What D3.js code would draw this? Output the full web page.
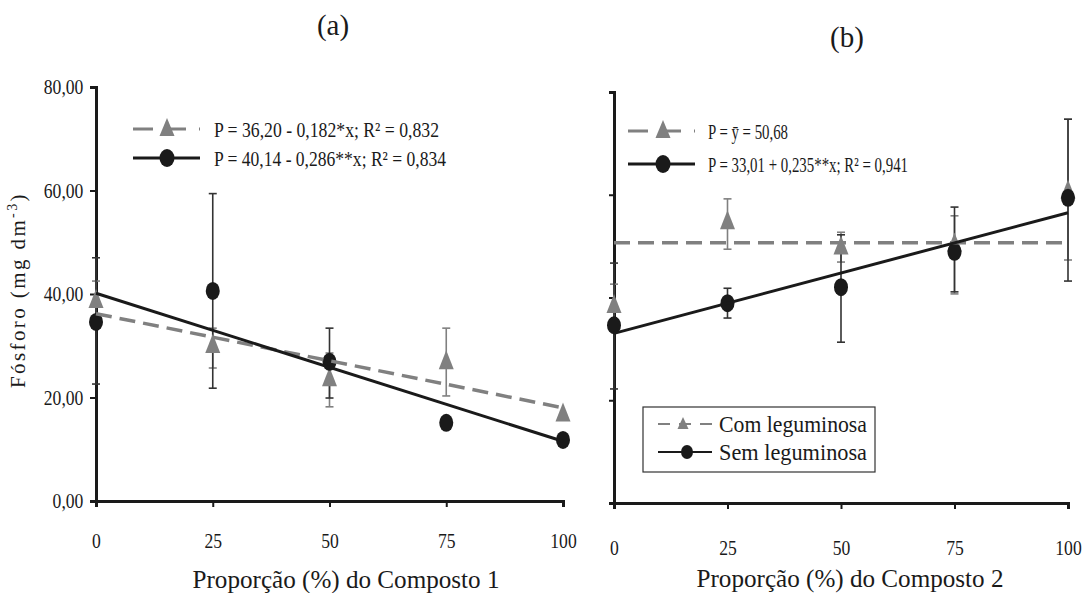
<!DOCTYPE html>
<html><head><meta charset="utf-8">
<script src="https://cdn.jsdelivr.net/npm/d3@7/dist/d3.min.js"></script>
<style>
html,body{margin:0;padding:0;background:#fff;}
svg{display:block;}
</style></head>
<body>
<svg id="chart" width="1083" height="593" font-family="Liberation Serif"></svg>
<script>
// ---------- DATA ----------
const doses = [0, 25, 50, 75, 100];
const yTicks = [0, 20, 40, 60, 80];
const xTicks = [0, 25, 50, 75, 100];

// Panel (a): Composto 1
const comA    = [38.5, 29.8, 23.4, 26.7, 16.6];
const comA_lo = [34.5, 25.7, 18.2, 20.3, 16.6];
const comA_hi = [42.5, 33.4, 28.6, 33.4, 16.6];
const semA    = [34.6, 40.6, 26.9, 15.1, 11.8];
const semA_lo = [22.6, 21.8, 19.9, 15.1, 11.8];
const semA_hi = [47.0, 59.4, 33.4, 15.1, 11.8];
const fitComA = [36.20, -0.182];   // intercept, slope
const fitSemA = [40.14, -0.286];

// Panel (b): Composto 2
const comB    = [38.2, 54.5, 49.6, 50.2, 60.5];
const comB_lo = [33.8, 49.4, 46.9, 40.7, 47.3];
const comB_hi = [42.6, 59.2, 52.7, 55.9, 74.7];
const semB    = [34.6, 38.9, 42.0, 48.9, 59.4];
const semB_lo = [22.2, 36.0, 31.3, 41.1, 43.2];
const semB_hi = [46.7, 41.8, 52.2, 57.6, 74.7];
const fitComB = [50.68, 0];
const fitSemB = [33.01, 0.235];

const legA = ["P = 36,20 - 0,182*x; R² = 0,832", "P = 40,14 - 0,286**x; R² = 0,834"];
const legB = ["P = ȳ = 50,68", "P = 33,01 + 0,235**x; R² = 0,941"];
const seriesNames = ["Com leguminosa", "Sem leguminosa"];

// ---------- STYLE ----------
const FONT = "Liberation Serif";
const GRAY = "#808080", DARK = "#1a1a1a";
const svg = d3.select("#chart");
const fmt = d3.formatLocale({decimal: ",", thousands: ".", grouping: [3], currency: ["", ""]}).format(".2f");

function triPath(w, h) {
  return `M0,${-h*2/3}L${w/2},${h/3}L${-w/2},${h/3}Z`;
}
function txt(sel) {
  return sel.append("text").attr("font-family", FONT).attr("fill", DARK);
}

function panel(opt) {
  const x = d3.scaleLinear().domain([0, 100]).range(opt.xr);
  const y = d3.scaleLinear().domain([0, 80]).range(opt.yr);
  const g = svg.append("g");

  // axes
  const ya = g.append("g").attr("transform", `translate(${opt.xr[0]},0)`)
    .call(d3.axisLeft(y).tickValues(yTicks).tickSizeOuter(0).tickSize(opt.yTickSize).tickPadding(9)
      .tickFormat(opt.yLabels ? fmt : ""));
  const xa = g.append("g").attr("transform", `translate(0,${opt.yr[0]})`)
    .call(d3.axisBottom(x).tickValues(xTicks).tickSizeOuter(0).tickSize(6).tickPadding(opt.xPad)
      .tickFormat(d3.format("d")));
  [ya, xa].forEach(a => {
    a.attr("font-family", FONT).attr("font-size", 21);
    a.select(".domain").attr("stroke", DARK).attr("stroke-width", 3);
    a.selectAll(".tick line").attr("stroke", DARK).attr("stroke-width", 2);
    a.selectAll(".tick text").attr("font-size", 21).attr("fill", DARK).attr("font-family", FONT)
      .attr("transform", "scale(0.84,1)");
  });

  // error bars
  function ebars(lo, hi, color) {
    const eg = g.append("g").attr("stroke", color).attr("stroke-width", 1.6);
    doses.forEach((d, i) => {
      if (hi[i] - lo[i] < 0.5) return;
      const xx = x(d);
      eg.append("line").attr("x1", xx).attr("x2", xx).attr("y1", y(lo[i])).attr("y2", y(hi[i]));
      [lo[i], hi[i]].forEach(v => eg.append("line")
        .attr("x1", xx - 4).attr("x2", xx + 4).attr("y1", y(v)).attr("y2", y(v)));
    });
  }
  ebars(opt.com_lo, opt.com_hi, GRAY);
  ebars(opt.sem_lo, opt.sem_hi, "#333");

  // markers
  doses.forEach((d, i) => {
    g.append("path").attr("d", triPath(15, 19))
      .attr("transform", `translate(${x(d)},${y(opt.com[i])})`).attr("fill", GRAY);
  });
  doses.forEach((d, i) => {
    g.append("ellipse").attr("cx", x(d)).attr("cy", y(opt.sem[i]))
      .attr("rx", 7).attr("ry", 9).attr("fill", DARK);
  });

  // regression lines
  const line = d3.line().x(p => x(p[0])).y(p => y(p[1]));
  const f = (c, v) => c[0] + c[1] * v;
  g.append("path").datum([[0, f(opt.fitCom, 0)], [100, f(opt.fitCom, 100)]]).attr("d", line)
    .attr("stroke", GRAY).attr("stroke-width", 3.5).attr("stroke-dasharray", "16,8").attr("fill", "none");
  g.append("path").datum([[0, f(opt.fitSem, 0)], [100, f(opt.fitSem, 100)]]).attr("d", line)
    .attr("stroke", DARK).attr("stroke-width", 3).attr("fill", "none");

  // equation legend
  const L = opt.leg;
  const lg = g.append("g");
  lg.append("line").attr("x1", L.x0).attr("x2", L.x1).attr("y1", L.y[0]).attr("y2", L.y[0])
    .attr("stroke", GRAY).attr("stroke-width", 3).attr("stroke-dasharray", "20,13");
  lg.append("path").attr("d", triPath(15, 18)).attr("transform", `translate(${L.mx},${L.y[0] + 1})`).attr("fill", GRAY);
  lg.append("line").attr("x1", L.x0).attr("x2", L.x1).attr("y1", L.y[1]).attr("y2", L.y[1])
    .attr("stroke", DARK).attr("stroke-width", 3);
  lg.append("ellipse").attr("cx", L.mx).attr("cy", L.y[1]).attr("rx", 7.5).attr("ry", 9).attr("fill", DARK);
  opt.legText.forEach((t, i) => {
    txt(lg).attr("x", L.tx).attr("y", L.y[i] + 8).attr("font-size", 22)
      .attr("textLength", L.tw[i]).attr("lengthAdjust", "spacingAndGlyphs").text(t);
  });

  // titles
  txt(g).attr("x", opt.title.x).attr("y", opt.title.y).attr("text-anchor", "middle")
    .attr("font-size", 29).text(opt.title.t);
  txt(g).attr("x", opt.xt.x).attr("y", opt.xt.y).attr("text-anchor", "middle")
    .attr("font-size", 25).attr("textLength", opt.xt.w).attr("lengthAdjust", "spacingAndGlyphs").text(opt.xt.t);
  return {g, x, y};
}

panel({
  xr: [96, 563], yr: [501, 87], yTickSize: 6, yLabels: true, xPad: 26,
  com: comA, com_lo: comA_lo, com_hi: comA_hi,
  sem: semA, sem_lo: semA_lo, sem_hi: semA_hi,
  fitCom: fitComA, fitSem: fitSemA,
  leg: {x0: 133, x1: 200, mx: 167, y: [129, 158], tx: 214, tw: [225, 232]},
  legText: legA,
  title: {t: "(a)", x: 333, y: 35},
  xt: {t: "Proporção (%) do Composto 1", x: 346, y: 588, w: 307}
});

panel({
  xr: [614, 1068], yr: [503, 92], yTickSize: 5, yLabels: false, xPad: 31,
  com: comB, com_lo: comB_lo, com_hi: comB_hi,
  sem: semB, sem_lo: semB_lo, sem_hi: semB_hi,
  fitCom: fitComB, fitSem: fitSemB,
  leg: {x0: 628, x1: 695, mx: 663, y: [131, 164], tx: 708, tw: [80, 200]},
  legText: legB,
  title: {t: "(b)", x: 847, y: 47},
  xt: {t: "Proporção (%) do Composto 2", x: 850, y: 587, w: 307}
});

// series legend box in panel (b)
const box = svg.append("g");
box.append("rect").attr("x", 643).attr("y", 407).attr("width", 232).attr("height", 65)
  .attr("fill", "#fff").attr("stroke", "#333").attr("stroke-width", 1.2);
box.append("line").attr("x1", 658).attr("x2", 712).attr("y1", 424).attr("y2", 424)
  .attr("stroke", GRAY).attr("stroke-width", 2).attr("stroke-dasharray", "12,9");
box.append("path").attr("d", triPath(11, 12)).attr("transform", "translate(683,425)").attr("fill", GRAY);
box.append("line").attr("x1", 658).attr("x2", 712).attr("y1", 452).attr("y2", 452)
  .attr("stroke", DARK).attr("stroke-width", 2);
box.append("ellipse").attr("cx", 687).attr("cy", 452).attr("rx", 6).attr("ry", 7).attr("fill", DARK);
seriesNames.forEach((t, i) => {
  txt(box).attr("x", 719).attr("y", [432, 460][i]).attr("font-size", 23)
    .attr("textLength", 148).attr("lengthAdjust", "spacingAndGlyphs").text(t);
});

// y-axis title
const yt = txt(svg).attr("transform", "translate(25,290) rotate(-90)").attr("text-anchor", "middle")
  .attr("font-size", 21).attr("letter-spacing", 2.4);
yt.append("tspan").text("Fósforo (mg dm");
yt.append("tspan").attr("dy", -8).attr("font-size", 14).text("-3");
yt.append("tspan").attr("dy", 8).text(")");
</script>
</body></html>
